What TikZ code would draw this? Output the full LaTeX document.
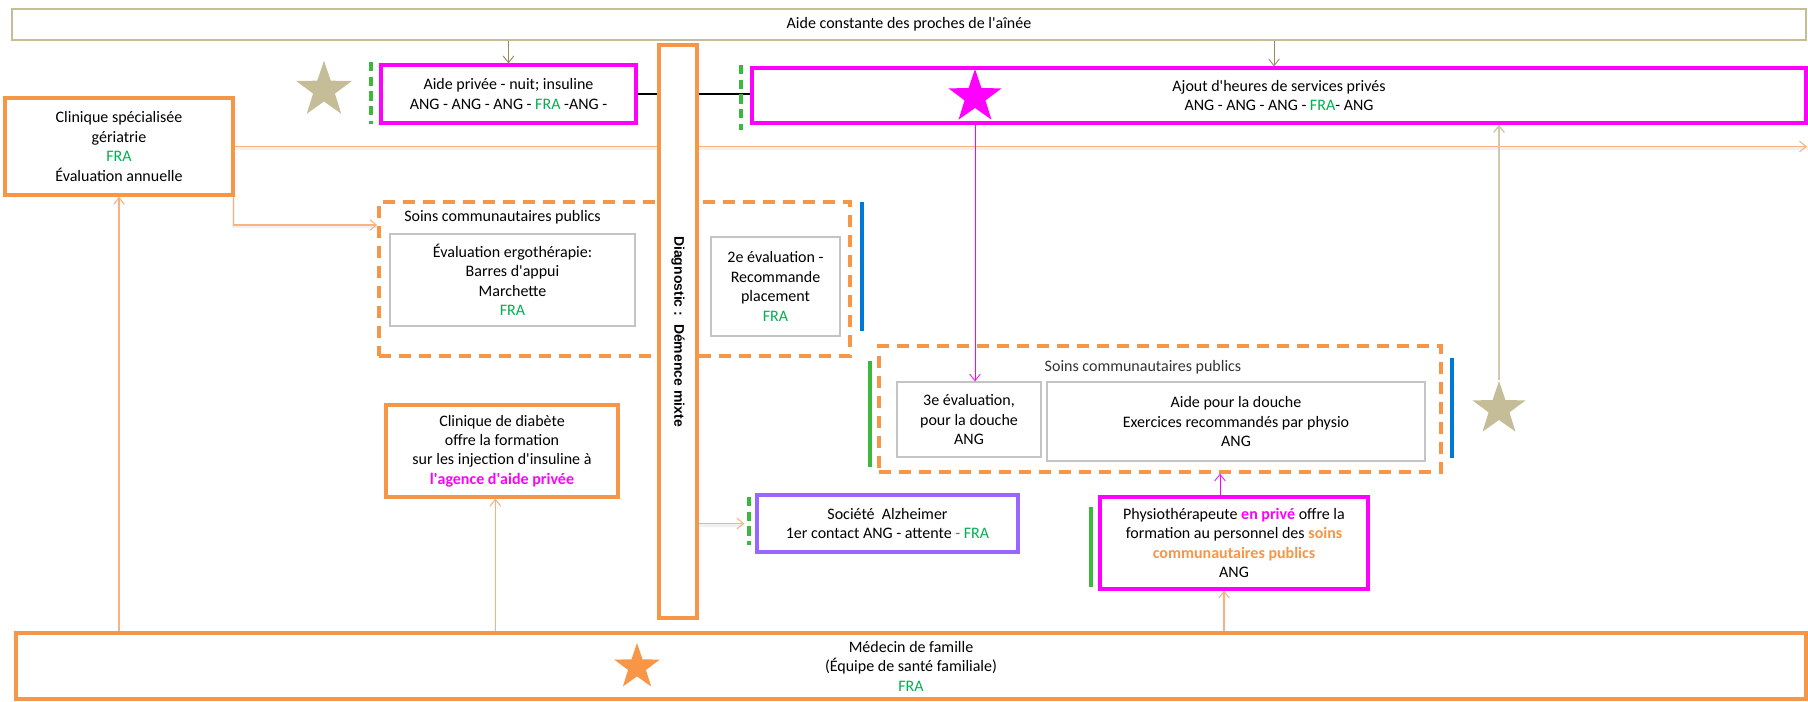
\documentclass[tikz,border=0pt]{standalone}
\usepackage{fontspec}
\setmainfont{Carlito}
\newfontfamily\diagfont{Liberation Sans}
\usepackage{xcolor}
\definecolor{orng}{RGB}{247,150,70}
\definecolor{lorng}{RGB}{248,178,130}
\definecolor{mgnt}{RGB}{255,0,255}
\definecolor{tanbg}{RGB}{196,189,151}
\definecolor{tanline}{RGB}{208,201,174}
\definecolor{tandark}{RGB}{150,140,95}
\definecolor{fragreen}{RGB}{0,176,80}
\definecolor{bargreen}{RGB}{60,185,60}
\definecolor{barblue}{RGB}{0,120,215}
\definecolor{purp}{RGB}{153,102,255}
\definecolor{boxgray}{RGB}{196,196,196}
\usetikzlibrary{
    shapes.geometric,
    arrows.meta,
    positioning,
    backgrounds
}
\newcommand{\apo}{\textquotesingle}
\newcommand{\fra}[1]{\textcolor{fragreen}{#1}}

\begin{document}
\begin{tikzpicture}[
        x=0.75pt, y=-0.75pt,
        txt/.style={font=\fontsize{12}{14.6}\selectfont},
        box/.style={rectangle, draw=#1, fill=white, line width=2.4pt, align=center, inner sep=2pt, txt},
        inbox/.style={rectangle, draw=boxgray, fill=white, line width=0.9pt, align=center, inner sep=2pt, txt},
        soins/.style={rectangle, draw=orng, line width=2.5pt, dash pattern=on 9pt off 6pt},
        stamp/.style={star, star points=5, star point ratio=2.55, fill=#1, draw=none, inner sep=0pt},
        shade/.style={preaction={draw=black!6, line width=2pt, -, transform canvas={yshift=-1.5pt}}},
        tip/.style={-{Straight Barb[length=5pt,width=8pt]}},
        lconn/.style={tip, lorng, line width=0.8pt},
        bar/.style={line width=2.4pt, #1}
    ]
        \useasboundingbox (0,0) rectangle (1808,702);

        % haut
        \node[box=tanbg, line width=1.8pt, minimum width=1345.5pt, minimum height=23.25pt] (proches) at (909,24.5) {Aide constante des proches de l\apo aînée};
        \node[box=mgnt, minimum width=191.25pt, minimum height=43.5pt] (prive) at (508.5,94) {Aide privée - nuit; insuline\\ANG - ANG - ANG - \fra{FRA} -ANG -};
        \node[box=mgnt, minimum width=790.5pt, minimum height=41.25pt] (ajout) at (1279,95.5) {Ajout d\apo heures de services privés\\ANG - ANG - ANG - \fra{FRA}- ANG};
        \node[box=orng, line width=2.7pt, minimum width=171pt, minimum height=72.75pt] (geria) at (119,146.5) {Clinique spécialisée\\gériatrie\\\fra{FRA}\\Évaluation annuelle};

        % soins communautaires 1
        \node[soins, minimum width=353.25pt, minimum height=115.5pt] (soins1) at (614.5,279) {};
        \node[txt, anchor=west, inner sep=0pt] (s1lab) at (404,217) {Soins communautaires publics};
        \node[inbox, minimum width=183.75pt, minimum height=69pt] (ergo) at (512.5,280) {Évaluation ergothérapie:\\Barres d\apo appui\\Marchette\\\fra{FRA}};
        \node[inbox, minimum width=96.75pt, minimum height=74.25pt] (eval2) at (775.5,286.5) {2e évaluation -\\Recommande\\placement\\\fra{FRA}};

        % soins communautaires 2
        \node[soins, minimum width=421.5pt, minimum height=94.5pt] (soins2) at (1160,409) {};
        \node[txt, inner sep=0pt, text=black!80] (s2lab) at (1143,367) {Soins communautaires publics};
        \node[inbox, minimum width=108pt, minimum height=56.25pt] (eval3) at (969,419.5) {3e évaluation,\\pour la douche\\ANG};
        \node[inbox, minimum width=283.5pt, minimum height=59.25pt] (douche) at (1236,421.5) {Aide pour la douche\\Exercices recommandés par physio\\ANG};

        \node[box=orng, minimum width=174pt, minimum height=69pt] (diabete) at (502,451) {Clinique de diabète\\offre la formation\\sur les injection d\apo insuline à\\\textcolor{mgnt}{\textbf{l\apo agence d\apo aide privée}}};
        \node[box=purp, minimum width=195.75pt, minimum height=42.75pt] (alz) at (887.5,523.5) {Société\ \ Alzheimer\\1er contact ANG - attente \fra{- FRA}};
        \node[box=mgnt, minimum width=201pt, minimum height=69pt] (physio) at (1234,543) {Physiothérapeute \textcolor{mgnt}{\textbf{en privé}} offre la\\formation au personnel des \textcolor{orng}{\textbf{soins}}\\\textcolor{orng}{\textbf{communautaires publics}}\\ANG};
        \node[box=orng, line width=2.7pt, minimum width=1342.5pt, minimum height=49.5pt] (medecin) at (911,666) {Médecin de famille\\(Équipe de santé familiale)\\\fra{FRA}};

        \node[box=orng, line width=2.8pt, minimum width=28.5pt, minimum height=429.75pt, inner sep=0pt] (diag) at (678,331.5) {\rotatebox{-90}{\diagfont\bfseries\fontsize{10.5}{12}\selectfont Diagnostic :\ \ Démence mixte}};

        % etoiles
        \node[stamp=tanbg, minimum size=44pt] (tstar1) at (324,90) {};
        \node[stamp=mgnt, minimum size=42pt] (mstar) at (975,97) {};
        \node[stamp=tanbg, minimum size=42pt] (tstar2) at (1499,409) {};
        \node[stamp=orng, minimum size=36pt] (ostar) at (637,667) {};

        % barres
        \draw[bar=bargreen, dash pattern=on 7pt off 4pt] (371,62) -- (371,124);
        \draw[bar=bargreen, dash pattern=on 7pt off 4pt] (741,65) -- (741,130);
        \draw[bar=barblue] (862,202) -- (862,331);
        \draw[bar=bargreen] (870,361) -- (870,467);
        \draw[bar=barblue] (1452,358) -- (1452,458);
        \draw[bar=bargreen, dash pattern=on 7pt off 4pt] (749,497) -- (749,545);
        \draw[bar=bargreen] (1091,507) -- (1091,587);

        \coordinate (droite) at (1807,146.5);

        % liens
        \begin{scope}[on background layer]
            \draw[black, line width=1.2pt] (prive.east) -- (prive.east -| ajout.west);
            \draw[lconn, shade] (geria.east) -- (droite);
        \end{scope}
        \draw[tip, tandark, line width=0.7pt] (prive.north |- proches.south) -- (prive.north);
        \draw[tip, tandark, line width=0.7pt] ([xshift=-3.75pt]ajout.north |- proches.south) -- ([xshift=-3.75pt]ajout.north);
        \draw[lconn, shade] ([xshift=-1pt]geria.south east) |- ([yshift=40.5pt]soins1.west);
        \draw[tip, mgnt, line width=0.6pt] (ajout.south -| mstar) -- (eval3.north -| mstar);
        \draw[tip, tanline, line width=1.1pt] (tstar2.north) -- (ajout.south -| tstar2.north);
        \draw[tip, mgnt, line width=0.6pt] ([xshift=-10.5pt]physio.north) -- ([xshift=-10.5pt]physio.north |- soins2.south);
        \draw[lconn, shade] (alz.west -| diag.east) -- ([xshift=-8.25pt]alz.west);
        \draw[lconn] (geria.south |- medecin.north) -- (geria.south);
        \draw[lconn] ([xshift=-5pt]diabete.south |- medecin.north) -- ([xshift=-5pt]diabete.south);
        \draw[lconn] ([xshift=-7.5pt]physio.south |- medecin.north) -- ([xshift=-7.5pt]physio.south);
    \end{tikzpicture}
\end{document}
